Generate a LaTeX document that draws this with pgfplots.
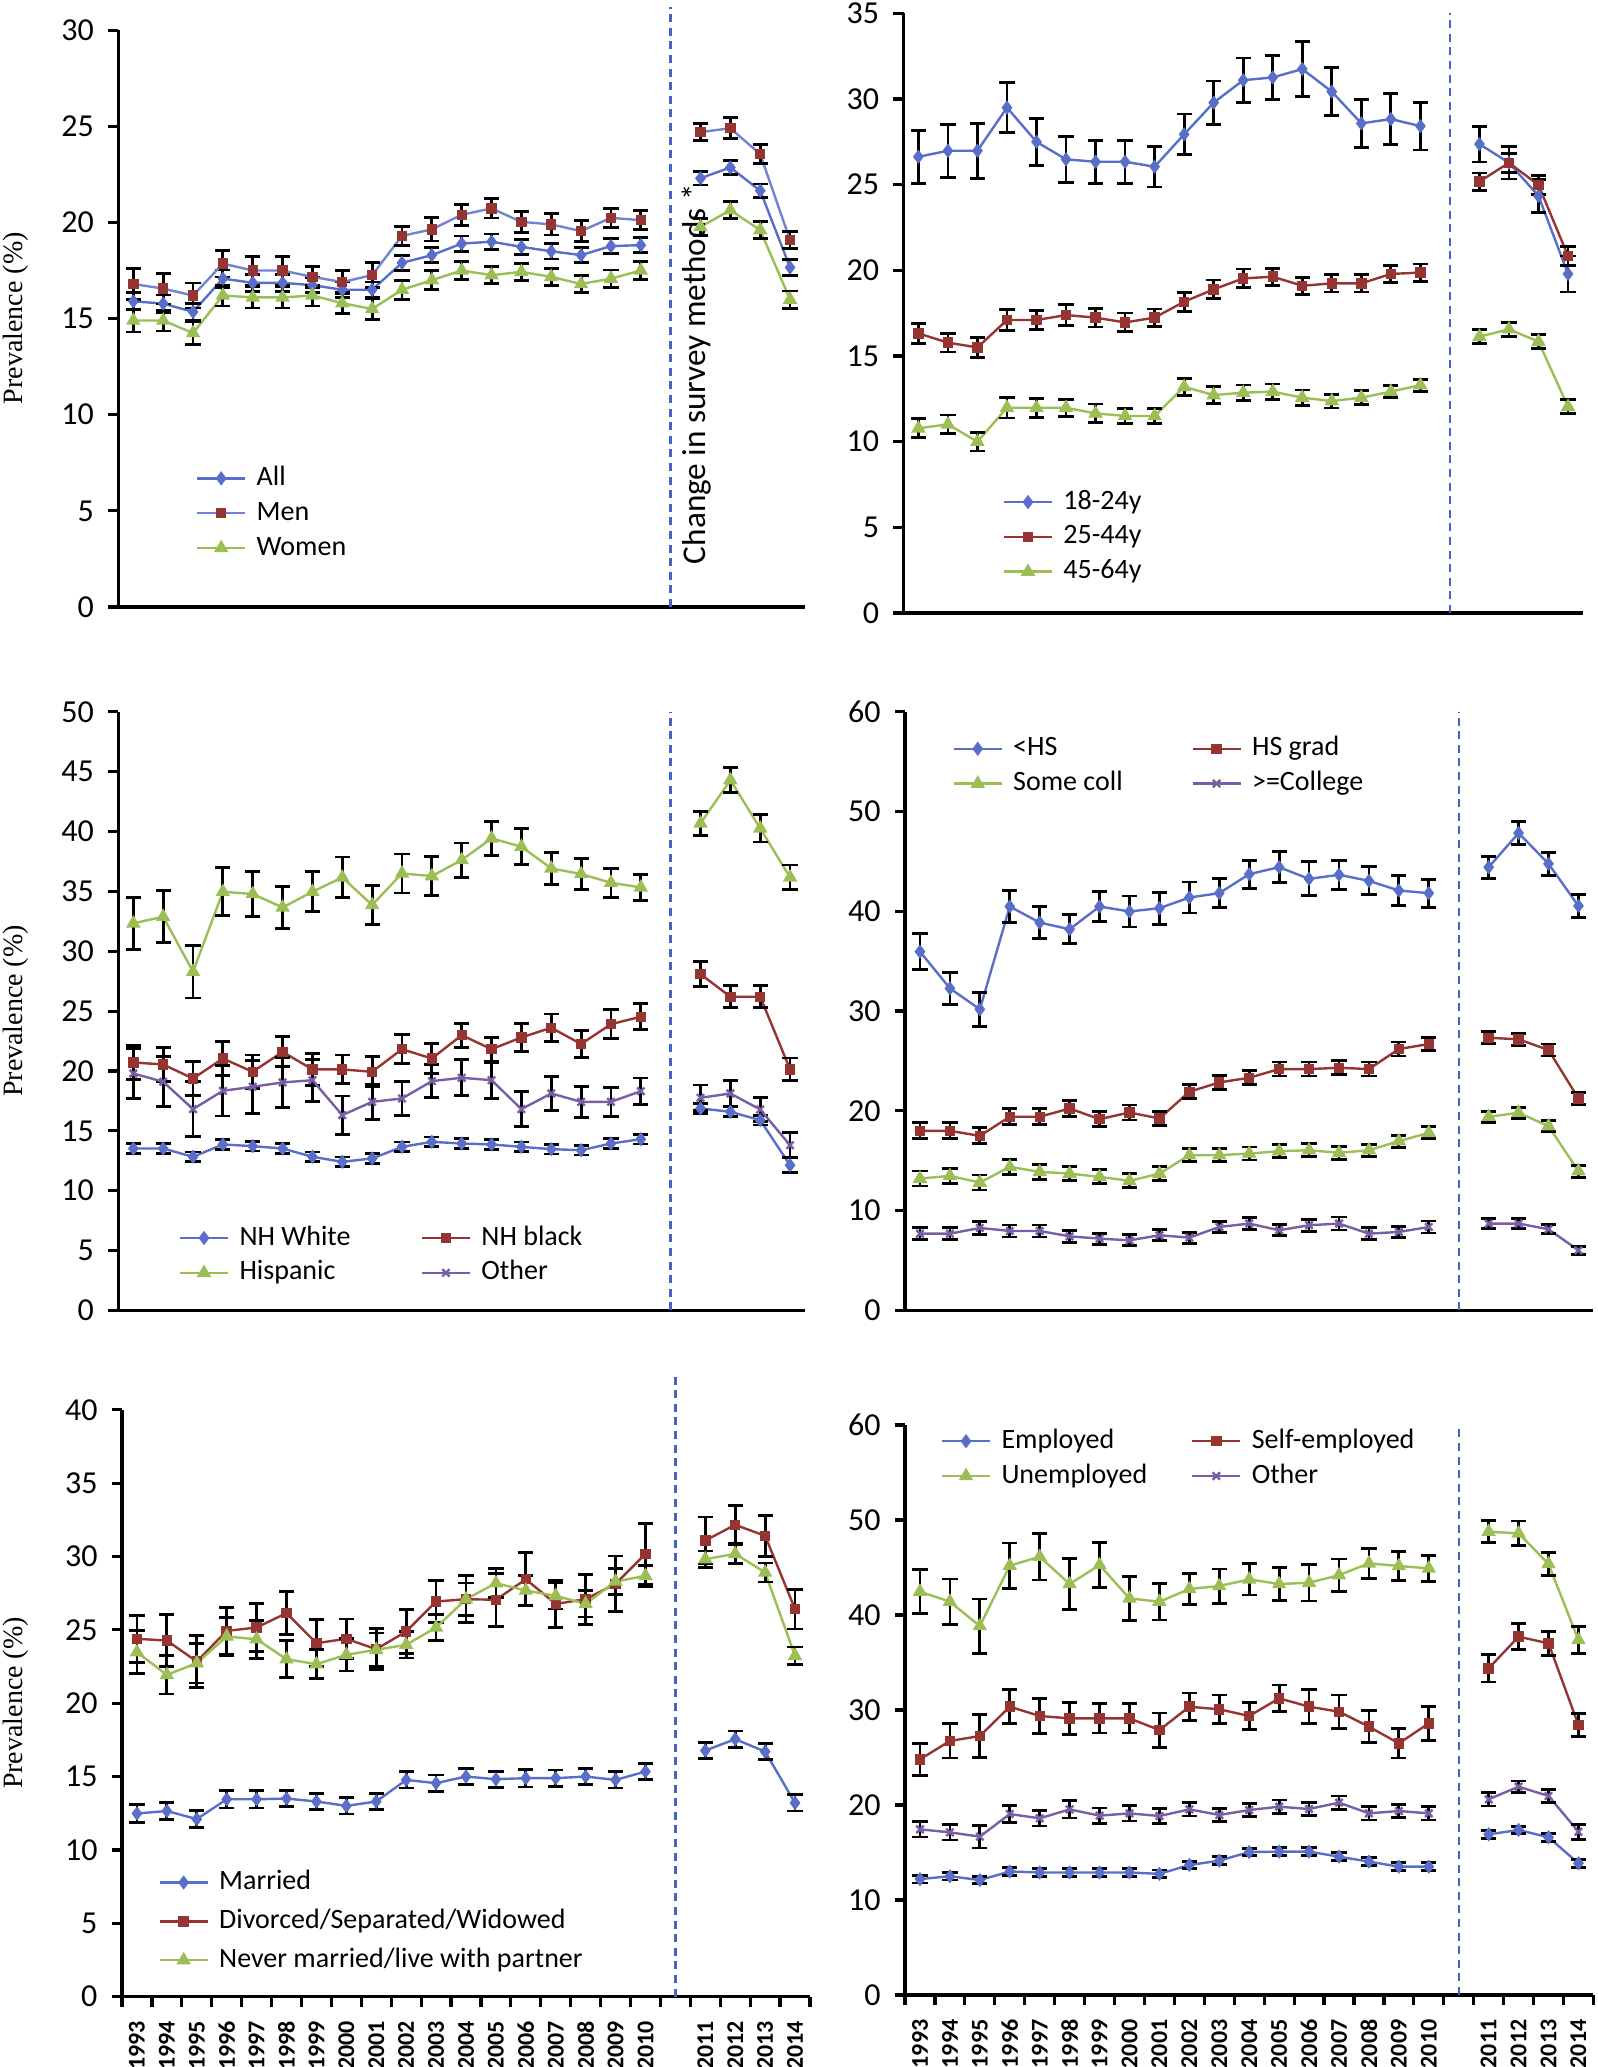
\documentclass[border=0pt]{standalone}
\usepackage{fontspec}
\setmainfont{Carlito}
\newfontfamily\serifrm{Liberation Serif}
\usepackage{pgfplots}
\pgfplotsset{compat=1.18}
\usepackage{pgfplotstable}

\definecolor{cblue}{RGB}{88,110,200}
\definecolor{cred}{RGB}{150,52,50}
\definecolor{cgreen}{RGB}{155,190,85}
\definecolor{cpurple}{RGB}{120,95,165}
\definecolor{cdash}{RGB}{70,100,200}

% index: 0..17 = 1993..2010, 18 = gap, 19..22 = 2011..2014
\pgfplotstableread{
x  all   allE men   menE wom   womE
0  15.90 0.45 16.80 0.80 14.90 0.60
1  15.78 0.45 16.56 0.80 14.90 0.55
2  15.35 0.45 16.20 0.65 14.25 0.60
3  17.08 0.45 17.86 0.70 16.20 0.55
4  16.86 0.45 17.50 0.75 16.10 0.55
5  16.86 0.45 17.50 0.75 16.10 0.55
6  16.74 0.40 17.17 0.55 16.20 0.55
7  16.50 0.40 16.90 0.60 15.80 0.55
8  16.50 0.40 17.26 0.65 15.50 0.55
9  17.90 0.40 19.30 0.50 16.50 0.50
10 18.30 0.40 19.64 0.60 17.00 0.50
11 18.90 0.40 20.40 0.55 17.50 0.45
12 19.00 0.40 20.73 0.50 17.26 0.45
13 18.73 0.40 20.03 0.55 17.43 0.45
14 18.50 0.40 19.90 0.55 17.17 0.45
15 18.30 0.40 19.55 0.55 16.80 0.45
16 18.77 0.40 20.24 0.50 17.08 0.45
17 18.82 0.40 20.12 0.50 17.50 0.45
18 nan   nan  nan   nan  nan   nan
19 22.30 0.35 24.70 0.45 19.77 0.45
20 22.86 0.35 24.90 0.55 20.64 0.45
21 21.65 0.35 23.55 0.50 19.60 0.45
22 17.66 0.40 19.08 0.45 15.99 0.45
}\tabsex

\pgfplotstableread{
x  a    aE   b     bE   c     cE
0  26.63 1.54 16.32 0.60 10.78 0.55
1  26.98 1.55 15.78 0.55 11.01 0.55
2  26.98 1.60 15.50 0.60 10.00 0.55
3  29.50 1.47 17.10 0.60 11.98 0.60
4  27.50 1.38 17.10 0.55 11.98 0.55
5  26.48 1.34 17.39 0.60 11.98 0.50
6  26.34 1.25 17.24 0.55 11.65 0.55
7  26.34 1.25 16.96 0.55 11.50 0.45
8  26.05 1.19 17.24 0.50 11.50 0.45
9  27.94 1.19 18.17 0.55 13.20 0.50
10 29.79 1.26 18.89 0.55 12.72 0.50
11 31.10 1.30 19.53 0.55 12.86 0.45
12 31.26 1.30 19.63 0.50 12.92 0.45
13 31.75 1.60 19.10 0.50 12.57 0.45
14 30.43 1.40 19.24 0.50 12.37 0.40
15 28.58 1.40 19.24 0.50 12.57 0.40
16 28.83 1.50 19.79 0.50 12.92 0.35
17 28.42 1.40 19.87 0.50 13.30 0.35
18 nan   nan  nan   nan  nan   nan
19 27.37 1.05 25.18 0.50 16.13 0.40
20 26.28 0.95 26.28 0.55 16.56 0.40
21 24.34 0.97 24.98 0.55 15.84 0.40
22 19.79 1.05 20.84 0.55 12.04 0.40
}\tabage

\pgfplotstableread{
x  a     aE   b     bE   c     cE   d     dE
0  13.52 0.40 20.71 1.40 32.33 2.17 19.79 2.10
1  13.52 0.40 20.54 1.40 32.88 2.17 19.10 2.10
2  12.83 0.40 19.37 1.40 28.29 2.20 16.81 2.30
3  13.86 0.40 21.04 1.45 34.97 2.00 18.34 2.10
4  13.72 0.40 19.93 1.40 34.78 1.90 18.68 2.20
5  13.52 0.40 21.60 1.25 33.66 1.73 19.04 2.10
6  12.83 0.40 20.13 1.35 34.97 1.67 19.23 1.75
7  12.41 0.40 20.13 1.20 36.17 1.70 16.31 1.60
8  12.69 0.40 19.93 1.25 33.86 1.60 17.42 1.45
9  13.66 0.40 21.82 1.20 36.50 1.63 17.70 1.40
10 14.08 0.40 21.04 1.25 36.28 1.63 19.15 1.37
11 13.94 0.40 22.99 1.00 37.62 1.43 19.43 1.50
12 13.86 0.40 21.82 1.00 39.43 1.43 19.23 1.50
13 13.66 0.40 22.80 1.15 38.73 1.50 16.81 1.45
14 13.47 0.40 23.61 1.15 36.92 1.35 18.12 1.40
15 13.38 0.40 22.25 1.10 36.45 1.30 17.42 1.30
16 13.94 0.40 23.91 1.20 35.72 1.20 17.42 1.20
17 14.30 0.40 24.53 1.10 35.33 1.10 18.31 1.10
18 nan   nan  nan   nan  nan   nan  nan   nan
19 16.87 0.40 28.09 1.05 40.68 1.00 17.76 1.07
20 16.59 0.40 26.20 0.93 44.30 1.07 18.12 1.10
21 15.89 0.40 26.20 0.93 40.26 1.14 16.78 1.00
22 12.13 0.60 20.13 0.95 36.17 1.03 13.80 1.05
}\tabrace

\pgfplotstableread{
x  a     aE   b     bE   c     cE   d    dE
0  35.95 1.80 17.99 0.80 13.21 0.75 7.69 0.60
1  32.27 1.60 17.99 0.80 13.48 0.75 7.69 0.60
2  30.17 1.70 17.49 0.80 12.81 0.75 8.26 0.65
3  40.47 1.60 19.40 0.80 14.38 0.75 7.96 0.60
4  38.86 1.60 19.40 0.80 13.88 0.75 7.96 0.60
5  38.19 1.45 20.23 0.80 13.71 0.70 7.42 0.60
6  40.47 1.50 19.16 0.75 13.38 0.70 7.19 0.55
7  39.97 1.55 19.83 0.75 12.98 0.70 7.02 0.55
8  40.30 1.60 19.23 0.70 13.71 0.70 7.53 0.55
9  41.37 1.55 21.91 0.70 15.55 0.65 7.29 0.55
10 41.81 1.45 22.84 0.70 15.55 0.65 8.36 0.55
11 43.71 1.40 23.31 0.70 15.72 0.65 8.70 0.60
12 44.41 1.55 24.18 0.70 15.95 0.65 8.03 0.55
13 43.24 1.70 24.18 0.70 16.05 0.65 8.53 0.60
14 43.65 1.45 24.31 0.70 15.79 0.65 8.70 0.65
15 43.04 1.40 24.18 0.70 16.05 0.60 7.69 0.60
16 42.07 1.50 26.19 0.70 16.96 0.60 7.86 0.55
17 41.81 1.40 26.69 0.65 17.79 0.60 8.36 0.60
18 nan   nan  nan   nan  nan   nan  nan  nan
19 44.41 1.10 27.32 0.60 19.40 0.55 8.70 0.50
20 47.83 1.17 27.16 0.60 19.80 0.55 8.70 0.50
21 44.75 1.17 26.09 0.60 18.46 0.55 8.13 0.45
22 40.53 1.13 21.24 0.60 13.95 0.60 6.02 0.40
}\tabedu

\pgfplotstableread{
x  a     aE   b     bE   c     cE
0  12.48 0.60 24.39 1.60 23.48 1.45
1  12.65 0.60 24.27 1.75 21.93 1.30
2  12.10 0.60 22.84 1.75 22.73 1.35
3  13.45 0.60 24.93 1.60 24.55 1.30
4  13.45 0.60 25.16 1.65 24.36 1.30
5  13.50 0.55 26.14 1.45 23.00 1.25
6  13.30 0.55 24.09 1.60 22.66 1.00
7  13.00 0.55 24.39 1.35 23.30 1.10
8  13.30 0.55 23.68 1.40 23.64 1.15
9  14.77 0.55 24.89 1.50 23.98 0.90
10 14.55 0.55 26.93 1.45 25.16 0.90
11 15.00 0.55 27.09 1.60 27.09 1.10
12 14.82 0.55 27.05 1.80 28.18 1.00
13 14.89 0.60 28.45 1.80 27.68 1.00
14 14.89 0.55 26.77 1.60 27.32 0.90
15 15.00 0.55 27.09 1.70 26.77 0.90
16 14.77 0.55 28.14 1.90 28.30 0.90
17 15.34 0.55 30.18 2.05 28.68 0.70
18 nan   nan  nan   nan  nan   nan
19 16.77 0.55 31.09 1.60 29.82 0.55
20 17.55 0.55 32.16 1.30 30.18 0.65
21 16.70 0.55 31.41 1.40 28.91 0.65
22 13.20 0.55 26.41 1.35 23.23 0.60
}\tabmar

\pgfplotstableread{
x  a     aE   b     bE   c     cE   d     dE
0  12.20 0.40 24.81 1.67 42.46 2.30 17.44 0.80
1  12.50 0.40 26.74 1.80 41.40 2.40 17.12 0.80
2  12.10 0.40 27.26 2.25 38.84 2.85 16.67 1.20
3  13.00 0.40 30.35 1.80 45.19 2.40 19.05 0.90
4  12.90 0.40 29.37 1.85 46.14 2.45 18.60 0.80
5  12.90 0.40 29.12 1.67 43.26 2.65 19.54 0.90
6  12.90 0.40 29.12 1.55 45.26 2.35 18.88 0.80
7  12.90 0.40 29.12 1.55 41.75 2.30 19.12 0.80
8  12.75 0.40 27.89 1.80 41.40 1.93 18.84 0.80
9  13.68 0.40 30.35 1.45 42.74 1.67 19.54 0.70
10 14.14 0.40 30.07 1.50 43.05 1.80 18.95 0.70
11 15.05 0.40 29.37 1.45 43.75 1.65 19.47 0.70
12 15.09 0.40 31.23 1.40 43.26 1.75 19.82 0.70
13 15.09 0.40 30.35 1.80 43.40 1.93 19.58 0.70
14 14.56 0.40 29.82 1.75 44.20 1.70 20.25 0.70
15 14.04 0.40 28.25 1.70 45.44 1.60 19.12 0.70
16 13.51 0.40 26.49 1.55 45.16 1.50 19.37 0.70
17 13.51 0.40 28.60 1.80 44.91 1.37 19.12 0.70
18 nan   nan  nan   nan  nan   nan  nan   nan
19 16.91 0.40 34.39 1.44 48.77 1.14 20.60 0.70
20 17.37 0.40 37.72 1.35 48.60 1.30 21.93 0.60
21 16.60 0.40 37.02 1.28 45.37 1.17 20.95 0.70
22 13.86 0.40 28.42 1.23 37.37 1.44 17.19 0.80
}\tabemp

\pgfplotsset{
  panel/.style={
    scale only axis, clip=false, anchor=south west,
    xmin=-0.5, xmax=22.5, ymin=0,
    axis x line*=bottom, axis y line*=left,
    axis line style={line width=0.8pt, black},
    tick align=outside,
    major tick length=2.6pt, minor tick length=2.6pt,
    tick style={black, line width=0.8pt},
    xtick=\empty,
    minor xtick={-0.5,0.5,...,22.5},
    y tick label style={font=\fontsize{8}{9}\selectfont, /pgf/number format/assume math mode=true},
    unbounded coords=jump,
    legend cell align=left,
    legend image code/.code={\draw[mark repeat=2, mark phase=2, #1] plot coordinates {(0cm,0cm) (0.21cm,0cm) (0.42cm,0cm)};},
    legend style={draw=none, fill=none, inner sep=0pt, anchor=north west,
      font=\fontsize{7}{8}\selectfont,
      nodes={inner sep=0.6pt, text height=5pt, text depth=1.5pt},
      row sep=1pt,
      /tikz/every odd column/.append style={column sep=2pt}},
  },
  years/.style={
    xtick={0,...,17,19,20,21,22},
    xticklabels={1993,1994,1995,1996,1997,1998,1999,2000,2001,2002,2003,2004,2005,2006,2007,2008,2009,2010,2011,2012,2013,2014},
    major x tick style={draw=none},
    x tick label style={rotate=90, anchor=east, font=\bfseries\fontsize{6}{7}\selectfont},
  },
  sBlue/.style={color=cblue, line width=0.6pt, mark=diamond*, mark size=1.3pt, mark options={solid, fill=cblue, draw=cblue}},
  sRed/.style={color=cred, line width=0.6pt, mark=square*, mark size=1.0pt, mark options={solid, fill=cred, draw=cred}},
  sGreen/.style={color=cgreen, line width=0.6pt, mark=triangle*, mark size=1.5pt, mark options={solid, fill=cgreen, draw=cgreen}},
  sPurple/.style={color=cpurple, line width=0.6pt, mark=x, mark size=1.3pt, mark options={solid, draw=cpurple}},
  errs/.style={error bars/.cd, y dir=both, y explicit,
    error bar style={black, line width=0.7pt},
    error mark options={black, line width=0.7pt, mark size=1.9pt, rotate=90}},
}

\begin{document}
\begin{tikzpicture}
\useasboundingbox (0,0) rectangle (399.25pt,516.75pt);

% ---- sex
\begin{axis}[panel, at={(29.6pt,365pt)}, width=171.65pt, height=144.2pt,
  ymax=30, ytick={0,5,...,30},
  legend style={at={(0.112,0.251)}}]
\addplot[sBlue, errs] table[x=x, y=all, y error=allE] {\tabsex};
\addlegendentry{All}
\addplot[color=cblue!85, line width=0.6pt, mark=square*, mark size=1.0pt, mark options={solid, fill=cred, draw=cred}, errs] table[x=x, y=men, y error=menE] {\tabsex};
\addlegendentry{Men}
\addplot[sGreen, errs] table[x=x, y=wom, y error=womE] {\tabsex};
\addlegendentry{Women}
\draw[cdash, line width=0.6pt, dash pattern=on 2pt off 1.4pt] (axis cs:18,0) -- (axis cs:18,31.2);
\node[rotate=90, anchor=west, font=\fontsize{8.3}{9}\selectfont] at (axis cs:18.86,1.5) {Change in survey methods *};
\end{axis}

% ---- age
\begin{axis}[panel, at={(225.9pt,363.5pt)}, width=169.8pt, height=149.9pt,
  ymax=35, ytick={0,5,...,35},
  legend style={at={(0.145,0.212)}}]
\addplot[sBlue, errs] table[x=x, y=a, y error=aE] {\tabage};
\addlegendentry{18-24y}
\addplot[sRed, errs] table[x=x, y=b, y error=bE] {\tabage};
\addlegendentry{25-44y}
\addplot[sGreen, errs] table[x=x, y=c, y error=cE] {\tabage};
\addlegendentry{45-64y}
\draw[cdash, line width=0.6pt, dash pattern=on 2pt off 1.4pt] (axis cs:18,0) -- (axis cs:18,35);
\end{axis}

% ---- race
\begin{axis}[panel, at={(29.6pt,189.15pt)}, width=171.65pt, height=149.65pt,
  ymax=50, ytick={0,5,...,50},
  legend columns=2,
  legend style={at={(0.087,0.148)}, /tikz/every even column/.append style={column sep=17pt}}]
\addplot[sBlue, errs] table[x=x, y=a, y error=aE] {\tabrace};
\addlegendentry{NH White}
\addplot[sRed, errs] table[x=x, y=b, y error=bE] {\tabrace};
\addlegendentry{NH black}
\addplot[sGreen, errs] table[x=x, y=c, y error=cE] {\tabrace};
\addlegendentry{Hispanic}
\addplot[sPurple, errs] table[x=x, y=d, y error=dE] {\tabrace};
\addlegendentry{Other}
\draw[cdash, line width=0.6pt, dash pattern=on 2pt off 1.4pt] (axis cs:18,0) -- (axis cs:18,50);
\end{axis}

% ---- education
\begin{axis}[panel, at={(226.25pt,189.15pt)}, width=172.1pt, height=149.7pt,
  ymax=60, ytick={0,10,...,60},
  legend columns=2,
  legend style={at={(0.068,0.965)}, /tikz/every even column/.append style={column sep=16.6pt}}]
\addplot[sBlue, errs] table[x=x, y=a, y error=aE] {\tabedu};
\addlegendentry{<HS}
\addplot[sRed, errs] table[x=x, y=b, y error=bE] {\tabedu};
\addlegendentry{HS grad}
\addplot[sGreen, errs] table[x=x, y=c, y error=cE] {\tabedu};
\addlegendentry{Some coll}
\addplot[sPurple, errs] table[x=x, y=d, y error=dE] {\tabedu};
\addlegendentry{>=College}
\draw[cdash, line width=0.6pt, dash pattern=on 2pt off 1.4pt] (axis cs:18,0) -- (axis cs:18,60);
\end{axis}

% ---- marital status
\begin{axis}[panel, years, at={(30.5pt,17.6pt)}, width=172pt, height=146.7pt,
  ymax=40, ytick={0,5,...,40},
  legend style={at={(0.052,0.222)}, row sep=2pt}]
\addplot[sBlue, errs] table[x=x, y=a, y error=aE] {\tabmar};
\addlegendentry{Married}
\addplot[sRed, errs] table[x=x, y=b, y error=bE] {\tabmar};
\addlegendentry{Divorced/Separated/Widowed}
\addplot[sGreen, errs] table[x=x, y=c, y error=cE] {\tabmar};
\addlegendentry{Never married/live with partner}
\draw[cdash, line width=0.6pt, dash pattern=on 2pt off 1.4pt] (axis cs:18,0) -- (axis cs:18,42.6);
\end{axis}

% ---- employment
\begin{axis}[panel, years, at={(226.25pt,18pt)}, width=172.1pt, height=142.5pt,
  ymax=60, ytick={0,10,...,60},
  legend columns=2,
  legend style={at={(0.051,1.0)}, /tikz/every even column/.append style={column sep=10.4pt}}]
\addplot[sBlue, errs] table[x=x, y=a, y error=aE] {\tabemp};
\addlegendentry{Employed}
\addplot[sRed, errs] table[x=x, y=b, y error=bE] {\tabemp};
\addlegendentry{Self-employed}
\addplot[sGreen, errs] table[x=x, y=c, y error=cE] {\tabemp};
\addlegendentry{Unemployed}
\addplot[sPurple, errs] table[x=x, y=d, y error=dE] {\tabemp};
\addlegendentry{Other}
\draw[cdash, line width=0.6pt, dash pattern=on 2pt off 1.4pt] (axis cs:18,0) -- (axis cs:18,60);
\end{axis}

\node[rotate=90, font=\serifrm\fontsize{7}{8}\selectfont] at (4pt,437.2pt) {Prevalence (\%)};
\node[rotate=90, font=\serifrm\fontsize{7}{8}\selectfont] at (4pt,264pt) {Prevalence (\%)};
\node[rotate=90, font=\serifrm\fontsize{7}{8}\selectfont] at (4pt,91pt) {Prevalence (\%)};
\end{tikzpicture}
\end{document}
